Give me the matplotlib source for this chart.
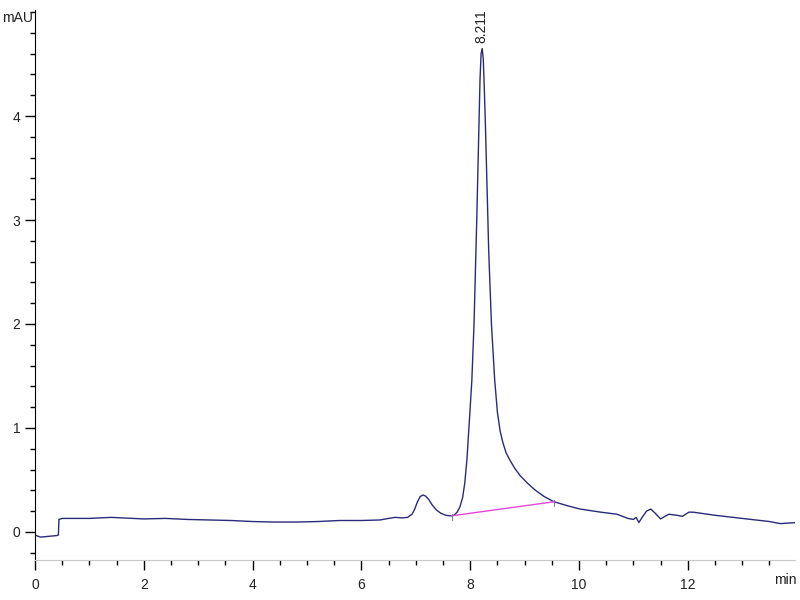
import matplotlib
matplotlib.use("Agg")
import matplotlib.pyplot as plt
from matplotlib.ticker import MultipleLocator

plt.rcParams["font.family"] = ["Liberation Sans", "DejaVu Sans"]

# ---- chromatogram trace (min, mAU) ----
time = [0.00, 0.10, 0.20, 0.30, 0.40, 0.43, 0.44, 0.50, 0.80, 1.00, 1.40, 1.80,
        2.00, 2.40, 2.80, 3.20, 3.60, 4.00, 4.40, 4.80, 5.20, 5.60, 6.00, 6.34,
        6.50, 6.62, 6.75, 6.85, 6.93, 6.98, 7.03, 7.08, 7.13, 7.18, 7.24, 7.30,
        7.38, 7.46, 7.55, 7.63, 7.70, 7.76, 7.81, 7.86, 7.90, 7.94, 7.97, 8.00,
        8.03, 8.07, 8.12, 8.16, 8.18, 8.20, 8.22, 8.24, 8.26, 8.28, 8.31, 8.34,
        8.39, 8.45, 8.50, 8.55, 8.60, 8.66, 8.73, 8.82, 8.92, 9.05, 9.20, 9.36,
        9.54, 9.80, 10.02, 10.40, 10.70, 10.90, 11.00, 11.05, 11.10, 11.16, 11.24,
        11.32, 11.40, 11.50, 11.58, 11.65, 11.80, 11.90, 12.02, 12.10, 12.50,
        13.00, 13.50, 13.70, 14.00]
signal = [-0.03, -0.05, -0.045, -0.04, -0.035, -0.03, 0.12, 0.13, 0.13, 0.13, 0.14, 0.13,
          0.125, 0.13, 0.12, 0.115, 0.11, 0.10, 0.095, 0.095, 0.10, 0.11, 0.11, 0.115,
          0.13, 0.14, 0.135, 0.14, 0.17, 0.22, 0.29, 0.34, 0.355, 0.345, 0.31, 0.26,
          0.21, 0.18, 0.16, 0.155, 0.16, 0.19, 0.24, 0.33, 0.47, 0.70, 0.95, 1.20,
          1.46, 2.00, 3.00, 3.90, 4.35, 4.60, 4.65, 4.55, 4.25, 3.90, 3.30, 2.70,
          2.00, 1.46, 1.15, 0.97, 0.86, 0.76, 0.69, 0.61, 0.54, 0.47, 0.40, 0.34,
          0.29, 0.25, 0.22, 0.19, 0.17, 0.13, 0.12, 0.14, 0.09, 0.14, 0.20,
          0.22, 0.18, 0.125, 0.15, 0.17, 0.16, 0.15, 0.19, 0.19, 0.16,
          0.13, 0.10, 0.08, 0.09]

# integration baseline and peak label
base_t = [7.66, 9.54]
base_y = [0.155, 0.29]
peak_rt = 8.211
peak_h = 4.65

fig = plt.figure(figsize=(8, 6), dpi=100)
ax = fig.add_axes([35 / 800, 40 / 600, 760 / 800, 550 / 600])

ax.plot(time, signal, color="#2a2a7a", lw=1.0)
ax.plot(base_t, base_y, color="#e048d8", lw=1.0)
for t, y in zip(base_t, base_y):
    ax.plot([t, t], [y - 0.04, y + 0.02], color="#707070", lw=0.6)

ax.text(peak_rt, peak_h + 0.05, f"{peak_rt:.3f}", rotation=90, ha="center",
        va="bottom", fontsize=10, color="#222222")

ax.set_xlim(0, 13.97)
ax.set_ylim(-0.27, 5.02)

ax.spines["top"].set_visible(False)
ax.spines["right"].set_visible(False)
ax.spines["bottom"].set_color("#c8c8c8")
ax.spines["left"].set_color("black")

ax.xaxis.set_major_locator(MultipleLocator(2))
ax.xaxis.set_minor_locator(MultipleLocator(0.5))
ax.yaxis.set_major_locator(MultipleLocator(1))
ax.yaxis.set_minor_locator(MultipleLocator(0.2))
ax.set_yticks([0, 1, 2, 3, 4])
ax.tick_params(axis="both", which="major", length=7, width=1, labelsize=10,
               colors="black", labelcolor="#222222")
ax.tick_params(axis="both", which="minor", length=3.5, width=1, colors="black")
ax.tick_params(axis="x", pad=6)

fig.text(2 / 800, 1 - 18 / 600, "mAU", fontsize=10, color="#222222", va="center")
fig.text(797 / 800, 1 - 580 / 600, "min", fontsize=10, color="#222222",
         ha="right", va="center")

fig.savefig("out.png", dpi=100)
